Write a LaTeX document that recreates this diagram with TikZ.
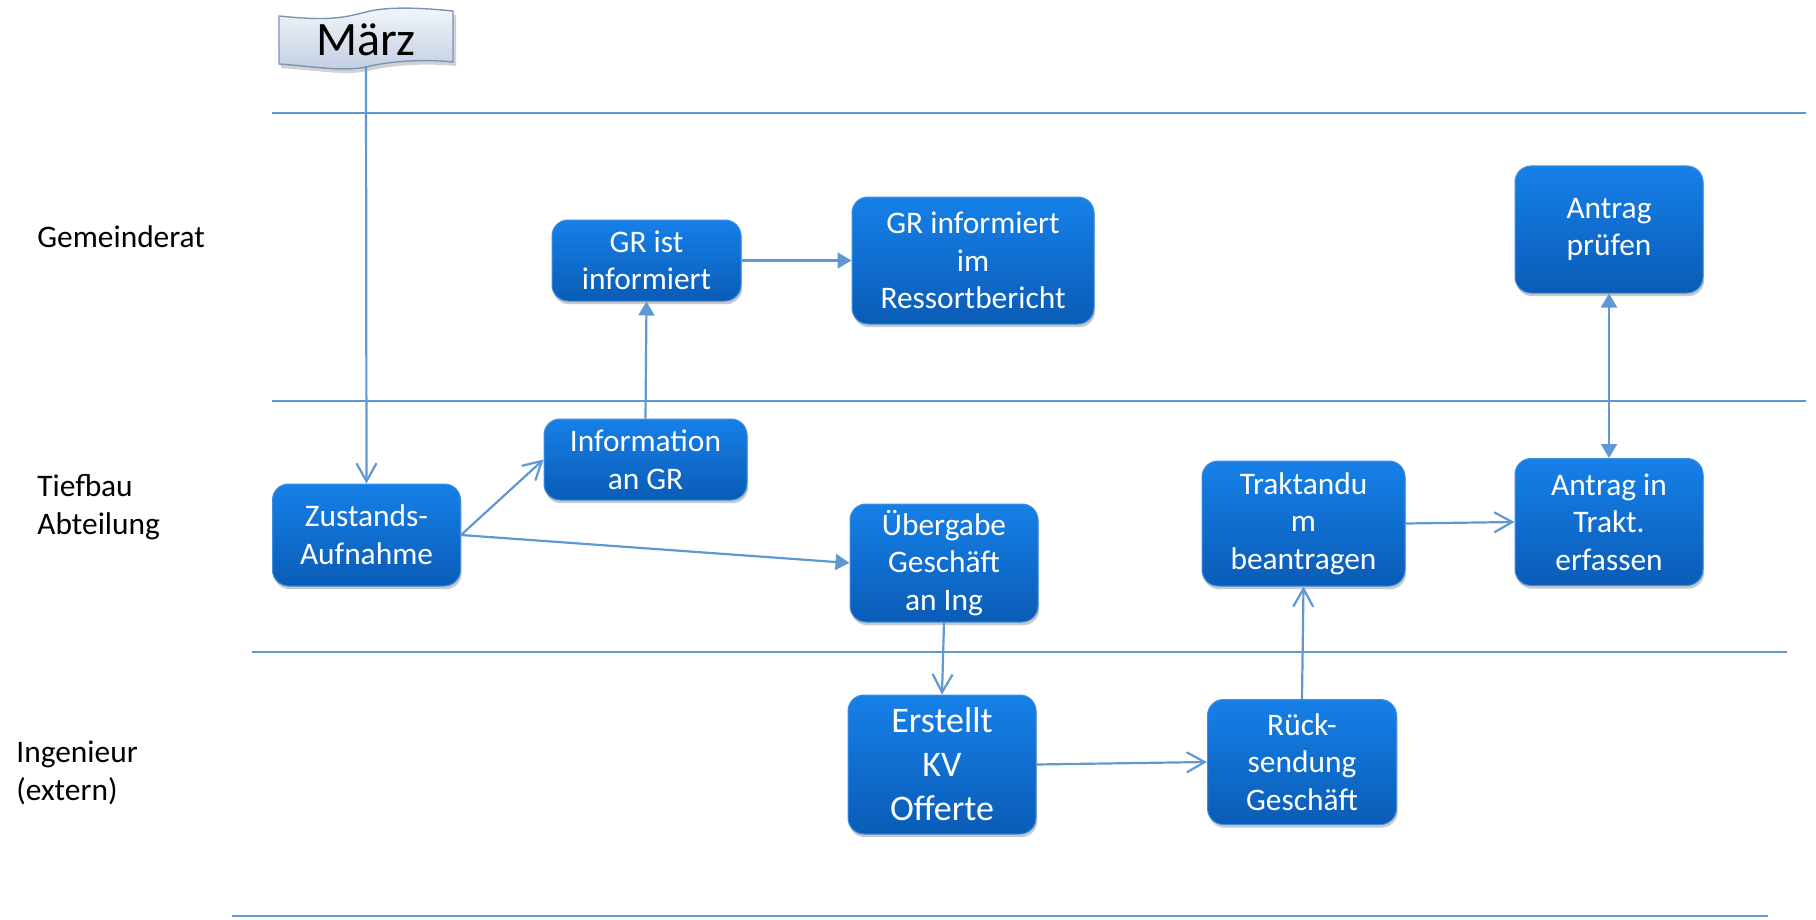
\documentclass[tikz,border=0pt]{standalone}
\usepackage{fontspec}
\setmainfont{Carlito}
\usepackage{xcolor}
\usetikzlibrary{arrows.meta,shadows}

\definecolor{flowline}{RGB}{95,152,210}
\definecolor{boxtop}{RGB}{22,128,232}
\definecolor{boxbottom}{RGB}{10,92,182}
\definecolor{boxrim}{RGB}{62,142,226}
\definecolor{flagtop}{RGB}{244,247,251}
\definecolor{flagbottom}{RGB}{192,205,226}
\definecolor{flagrim}{RGB}{126,146,178}

\begin{document}
\begin{tikzpicture}[x=0.5pt, y=-0.5pt,
  box/.style={rectangle, rounded corners=8pt, draw=boxrim, line width=0.5pt,
    top color=boxtop, bottom color=boxbottom, text=white, align=center,
    font=\fontsize{15.7}{18.8}\selectfont, inner sep=2pt, minimum width=94pt,
    drop shadow={shadow xshift=0.6pt, shadow yshift=-1.6pt, opacity=0.3, fill=black!70}},
  lane/.style={anchor=west, align=left, inner sep=0pt, font=\fontsize{15.7}{18.8}\selectfont},
  flow/.style={draw=flowline, line width=1.1pt},
  openflow/.style={flow, -{Straight Barb[length=9pt, width=10pt]}},
  headflow/.style={flow, -{Triangle[length=7pt, width=8pt]}}]
\useasboundingbox (0,0) rectangle (1816,920);

% lanes
\foreach \y/\xa/\xb in {113/272/1806, 401/272/1806, 652/252/1787, 916/232/1768}
  \draw[flowline, line width=0.9pt] (\xa,\y) -- (\xb,\y);
\node[lane] (lanegr) at (37,237) {Gemeinderat};
\node[lane] (lanetba) at (37,507) {Tiefbau\\Abteilung};
\node[lane] (laneing) at (16,773) {Ingenieur\\(extern)};

% banner
\fill[black, opacity=0.18] (281,20) .. controls (330,25) and (345,22) .. (368,16)
  .. controls (390,10) and (425,12) .. (456,15) -- (456,66)
  .. controls (425,63) and (392,65) .. (368,71)
  .. controls (345,76) and (312,70) .. (281,68) -- cycle;
\draw[flagrim, line width=0.7pt, top color=flagtop, bottom color=flagbottom]
  (279,16) .. controls (328,21) and (343,18) .. (366,12)
  .. controls (388,6) and (423,8) .. (453,11) -- (453,62)
  .. controls (423,59) and (390,61) .. (366,67)
  .. controls (343,72) and (310,66) .. (279,64) -- cycle;
\node[font=\fontsize{24}{28}\selectfont] (maerz) at (366,40) {März};
\coordinate (maerzfoot) at (366,66);

% boxes
\node[box, minimum height=51pt] (zustand) at (366.5,535) {Zustands-\\Aufnahme};
\node[box, minimum width=101.5pt, minimum height=40.5pt] (info) at (645.5,459.5) {Information\\an GR};
\node[box, minimum width=94.5pt, minimum height=40.5pt] (grist) at (646.5,260.5) {GR ist\\informiert};
\node[box, minimum width=121pt, minimum height=63.5pt] (grressort) at (973,260.5) {GR informiert\\im\\Ressortbericht};
\node[box, minimum height=59pt] (uebergabe) at (944,563) {Übergabe\\Geschäft\\an Ing};
\node[box, minimum width=101.5pt, minimum height=62.5pt] (traktandum) at (1303.5,523.5) {Traktandu\\m\\beantragen};
\node[box, minimum height=63.5pt] (antragpruefen) at (1609,229.5) {Antrag\\prüfen};
\node[box, minimum height=63.5pt] (antragtrakt) at (1609,522) {Antrag in\\Trakt.\\erfassen};
\node[box, minimum height=69.5pt, font=\fontsize{18}{22}\selectfont] (erstellt) at (942,764.5) {Erstellt\\KV\\Offerte};
\node[box, minimum width=94.5pt, minimum height=62.5pt] (ruecksendung) at (1302,762) {Rück-\\sendung\\Geschäft};

% connectors
\draw[openflow] (maerzfoot) -- (zustand.north);
\draw[openflow] (zustand.east) -- (info.west);
\draw[headflow] (zustand.east) -- (uebergabe.west);
\draw[headflow] (info.north) -- (grist.south);
\draw[headflow] (grist.east) -- (grressort.west);
\draw[openflow] (uebergabe.south) -- (erstellt.north);
\draw[openflow] (erstellt.east) -- (ruecksendung.west);
\draw[openflow] (ruecksendung.north) -- (traktandum.south);
\draw[openflow] (traktandum.east) -- (antragtrakt.west);
\draw[flow, {Triangle[length=7pt, width=8pt]}-{Triangle[length=7pt, width=8pt]}] (antragpruefen.south) -- (antragtrakt.north);
\end{tikzpicture}
\end{document}
